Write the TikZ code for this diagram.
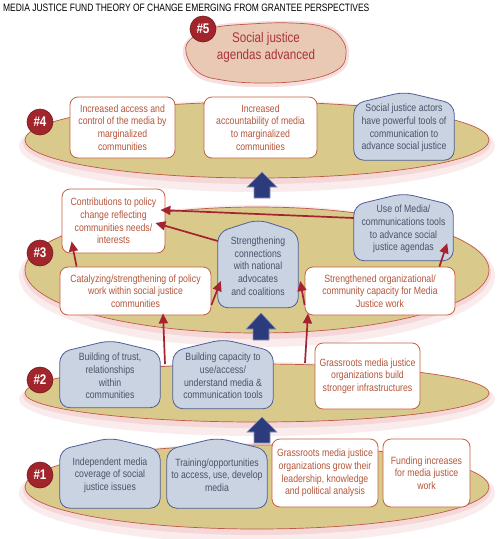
\documentclass[tikz,border=0pt]{standalone}
\usepackage{fontspec}
\setmainfont{Liberation Sans}[FakeStretch=0.83]
\newfontfamily\titlefont{Liberation Sans}[FakeStretch=0.79]
\usetikzlibrary{arrows.meta,shapes.geometric,calc}
\definecolor{khaki}{HTML}{D9CA8C}
\definecolor{ellborder}{HTML}{C0584A}
\definecolor{glowpink}{HTML}{F2CACA}
\definecolor{housefill}{HTML}{C9D3E2}
\definecolor{houseborder}{HTML}{4F5F98}
\definecolor{housetext}{HTML}{4A5369}
\definecolor{boxborder}{HTML}{C4603F}
\definecolor{boxtext}{HTML}{B5553A}
\definecolor{badgered}{HTML}{A2252B}
\definecolor{arrred}{HTML}{A52330}
\definecolor{navy}{HTML}{2C3B7C}
\definecolor{peach}{HTML}{E9C9B3}
\definecolor{fivetext}{HTML}{A8333A}
\pgfdeclarelayer{bg}\pgfdeclarelayer{mid}\pgfsetlayers{bg,mid,main}
\newcommand\boxfont{\fontsize{10.5}{12.7}\selectfont}
\newcommand\badgefont{\fontsize{14}{14}\selectfont\bfseries}
\tikzset{
 lvl/.style={ellipse, fill=khaki, draw=ellborder, line width=0.7pt, minimum width=464pt, inner sep=0pt},
 glow/.style={ellipse, fill=glowpink, draw=none, inner sep=0pt},
 wbox/.style={rectangle, rounded corners=8pt, fill=white, draw=boxborder, line width=0.8pt, text=boxtext, align=center, inner sep=0pt, font=\boxfont},
 hbox/.style={rectangle, inner sep=0pt, text=housetext, align=center, font=\boxfont},
 houseline/.style={fill=housefill, draw=houseborder, line width=0.8pt, rounded corners=10pt},
 badge/.style={circle, fill=badgered, draw=badgered!70!black, line width=0.6pt, text=white, font=\badgefont, minimum size=26pt, inner sep=0pt},
 redarrow/.style={draw=arrred, line width=1.7pt, -{Triangle[width=9pt,length=10pt]}},
 bigarrow/.style={fill=navy, draw=navy!55!white, line width=0.6pt},
}
\newcommand\houseshape[2]{%
 \begin{pgfonlayer}{mid}
 \draw[houseline] ([yshift=-4pt]#1.south) -- ([yshift=-4pt]#1.south west) -- ([yshift=-4pt]#1.north west) -- ([yshift=#2]#1.north) -- ([yshift=-4pt]#1.north east) -- ([yshift=-4pt]#1.south east) -- cycle;
 \end{pgfonlayer}}
\newcommand\bigup[4]{%
 \draw[bigarrow] (#1,#2) -- (#1+15,#3) -- (#1+8,#3) -- (#1+8,#4) -- (#1-8,#4) -- (#1-8,#3) -- (#1-15,#3) -- cycle;}
\begin{document}
\begin{tikzpicture}[x=1pt,y=-1pt]
\useasboundingbox (0,0) rectangle (500,539);
\begin{pgfonlayer}{bg}
 \fill[white] (0,0) rectangle (500,539);
 % glows
 \foreach \cy/\h in {140/76,270/126,393/58,487/84}{
   \node[glow, opacity=0.35, minimum width=476pt, minimum height=\h pt+16pt] at (257,\cy+6) {};
   \node[glow, opacity=0.6, minimum width=468pt, minimum height=\h pt+6pt] at (257,\cy+3) {};
 }
 \node[lvl, minimum height=76pt] (e4) at (257,140) {};
 \node[lvl, minimum height=126pt] (e3) at (257,270) {};
 \node[lvl, minimum height=58pt] (e2) at (257,393) {};
 \node[lvl, minimum height=84pt] (e1) at (257,487) {};
 % level 5 blob
 \fill[glowpink, opacity=0.6] plot[smooth cycle, tension=0.7] coordinates {(183,54) (190,37) (212,26) (250,22) (292,21) (326,25) (344,37) (349,57) (339,73) (306,84) (262,87) (220,84) (195,75)};
 \draw[fill=peach, draw=ellborder, line width=0.7pt] plot[smooth cycle, tension=0.7] coordinates {(186,52) (192,38) (212,28) (250,24) (292,23) (324,27) (341,38) (346,55) (337,70) (306,80) (262,83) (222,80) (198,72)};
\end{pgfonlayer}

\node[anchor=west, inner sep=0pt, font={\titlefont\fontsize{10.7}{12}\selectfont}] (title) at (3,8) {MEDIA JUSTICE FUND THEORY OF CHANGE EMERGING FROM GRANTEE PERSPECTIVES};

% level 5
\node[align=center, text=fivetext, font={\fontsize{14}{17}\selectfont}] (n5) at (266,47) {Social justice\\agendas advanced};
\node[badge] (b5) at (203,29) {\#5};

% level 4
\node[wbox, minimum width=105pt, minimum height=61pt] (b4a) at (122.5,127.5) {Increased access and\\control of the media by\\marginalized\\communities};
\node[wbox, minimum width=113pt, minimum height=61pt] (b4b) at (260.5,127.5) {Increased\\accountability of media\\to marginalized\\communities};
\node[hbox, minimum width=100pt, minimum height=56pt] (b4c) at (404,128) {Social justice actors\\have powerful tools of\\communication to\\advance social justice};
\houseshape{b4c}{8pt}
\node[badge] (b4) at (40,122) {\#4};

% level 3
\node[wbox, minimum width=103pt, minimum height=64pt] (contrib) at (113.5,221) {Contributions to policy\\change reflecting\\communities needs/\\interests};
\node[hbox, minimum width=99pt, minimum height=55pt] (use) at (403.5,229) {Use of Media/\\communications tools\\to advance social\\justice agendas};
\houseshape{use}{8pt}
\node[hbox, minimum width=80pt, minimum height=75pt] (strength) at (258,266) {Strengthening\\connections\\with national\\advocates\\and coalitions};
\houseshape{strength}{9pt}
\node[wbox, minimum width=151pt, minimum height=48pt] (catal) at (135.5,291) {Catalyzing/strengthening of policy\\work within social justice\\communities};
\node[wbox, minimum width=150pt, minimum height=48pt] (strorg) at (380,291) {Strengthened organizational/\\community capacity for Media\\Justice work};
\node[badge] (b3) at (40,253) {\#3};

% level 2
\node[hbox, minimum width=100pt, minimum height=55pt] (trust) at (110,376) {Building of trust,\\relationships\\within\\communities};
\houseshape{trust}{8pt}
\node[hbox, minimum width=100pt, minimum height=57pt] (capac) at (223,376) {Building capacity to\\use/access/\\understand media \&\\communication tools};
\houseshape{capac}{8pt}
\node[wbox, minimum width=105pt, minimum height=66pt] (grass2) at (367.5,376) {Grassroots media justice\\organizations build\\stronger infrastructures};
\node[badge] (b2) at (40,380) {\#2};

% level 1
\node[hbox, minimum width=100pt, minimum height=58pt] (indep) at (110,475) {Independent media\\coverage of social\\justice issues};
\houseshape{indep}{8pt}
\node[hbox, minimum width=100pt, minimum height=58pt] (train) at (217,475) {Training/opportunities\\to access, use, develop\\media};
\houseshape{train}{8pt}
\node[wbox, minimum width=106pt, minimum height=68pt] (grass1) at (325,473) {Grassroots media justice\\organizations grow their\\leadership, knowledge\\and political analysis};
\node[wbox, minimum width=87pt, minimum height=68pt] (fund) at (426.5,473) {Funding increases\\for media justice\\work};
\node[badge] (b1) at (40,475) {\#1};

% big arrows
\bigup{262}{172}{187}{198}
\bigup{261}{313}{329}{340}
\bigup{262}{417}{432}{443}

% red arrows
\coordinate (c7) at (165,364);
\coordinate (c8) at (305,363);
\draw[redarrow] ([yshift=11pt]use.west) -- ([xshift=-5pt,yshift=11pt]contrib.east);
\draw[redarrow] ([yshift=25pt]strength.west) -- ([xshift=-10pt,yshift=-2pt]contrib.east);
\draw[redarrow] ([xshift=17pt]catal.north west) -- ([xshift=10pt,yshift=12pt]contrib.south west);
\draw[redarrow] ([yshift=-14pt]catal.east) -- ([xshift=3pt,yshift=-15pt]strength.west);
\draw[redarrow] ([yshift=-14pt]strorg.west) -- ([xshift=2pt,yshift=-15pt]strength.east);
\draw[redarrow] ([xshift=-16pt]strorg.north east) -- ([xshift=-6pt,yshift=13.5pt]use.south east);
\draw[redarrow] (c7) -- ([xshift=27.5pt,yshift=2pt]catal.south);
\draw[redarrow] (c8) -- ([xshift=-72pt,yshift=2pt]strorg.south);
\end{tikzpicture}
\end{document}
